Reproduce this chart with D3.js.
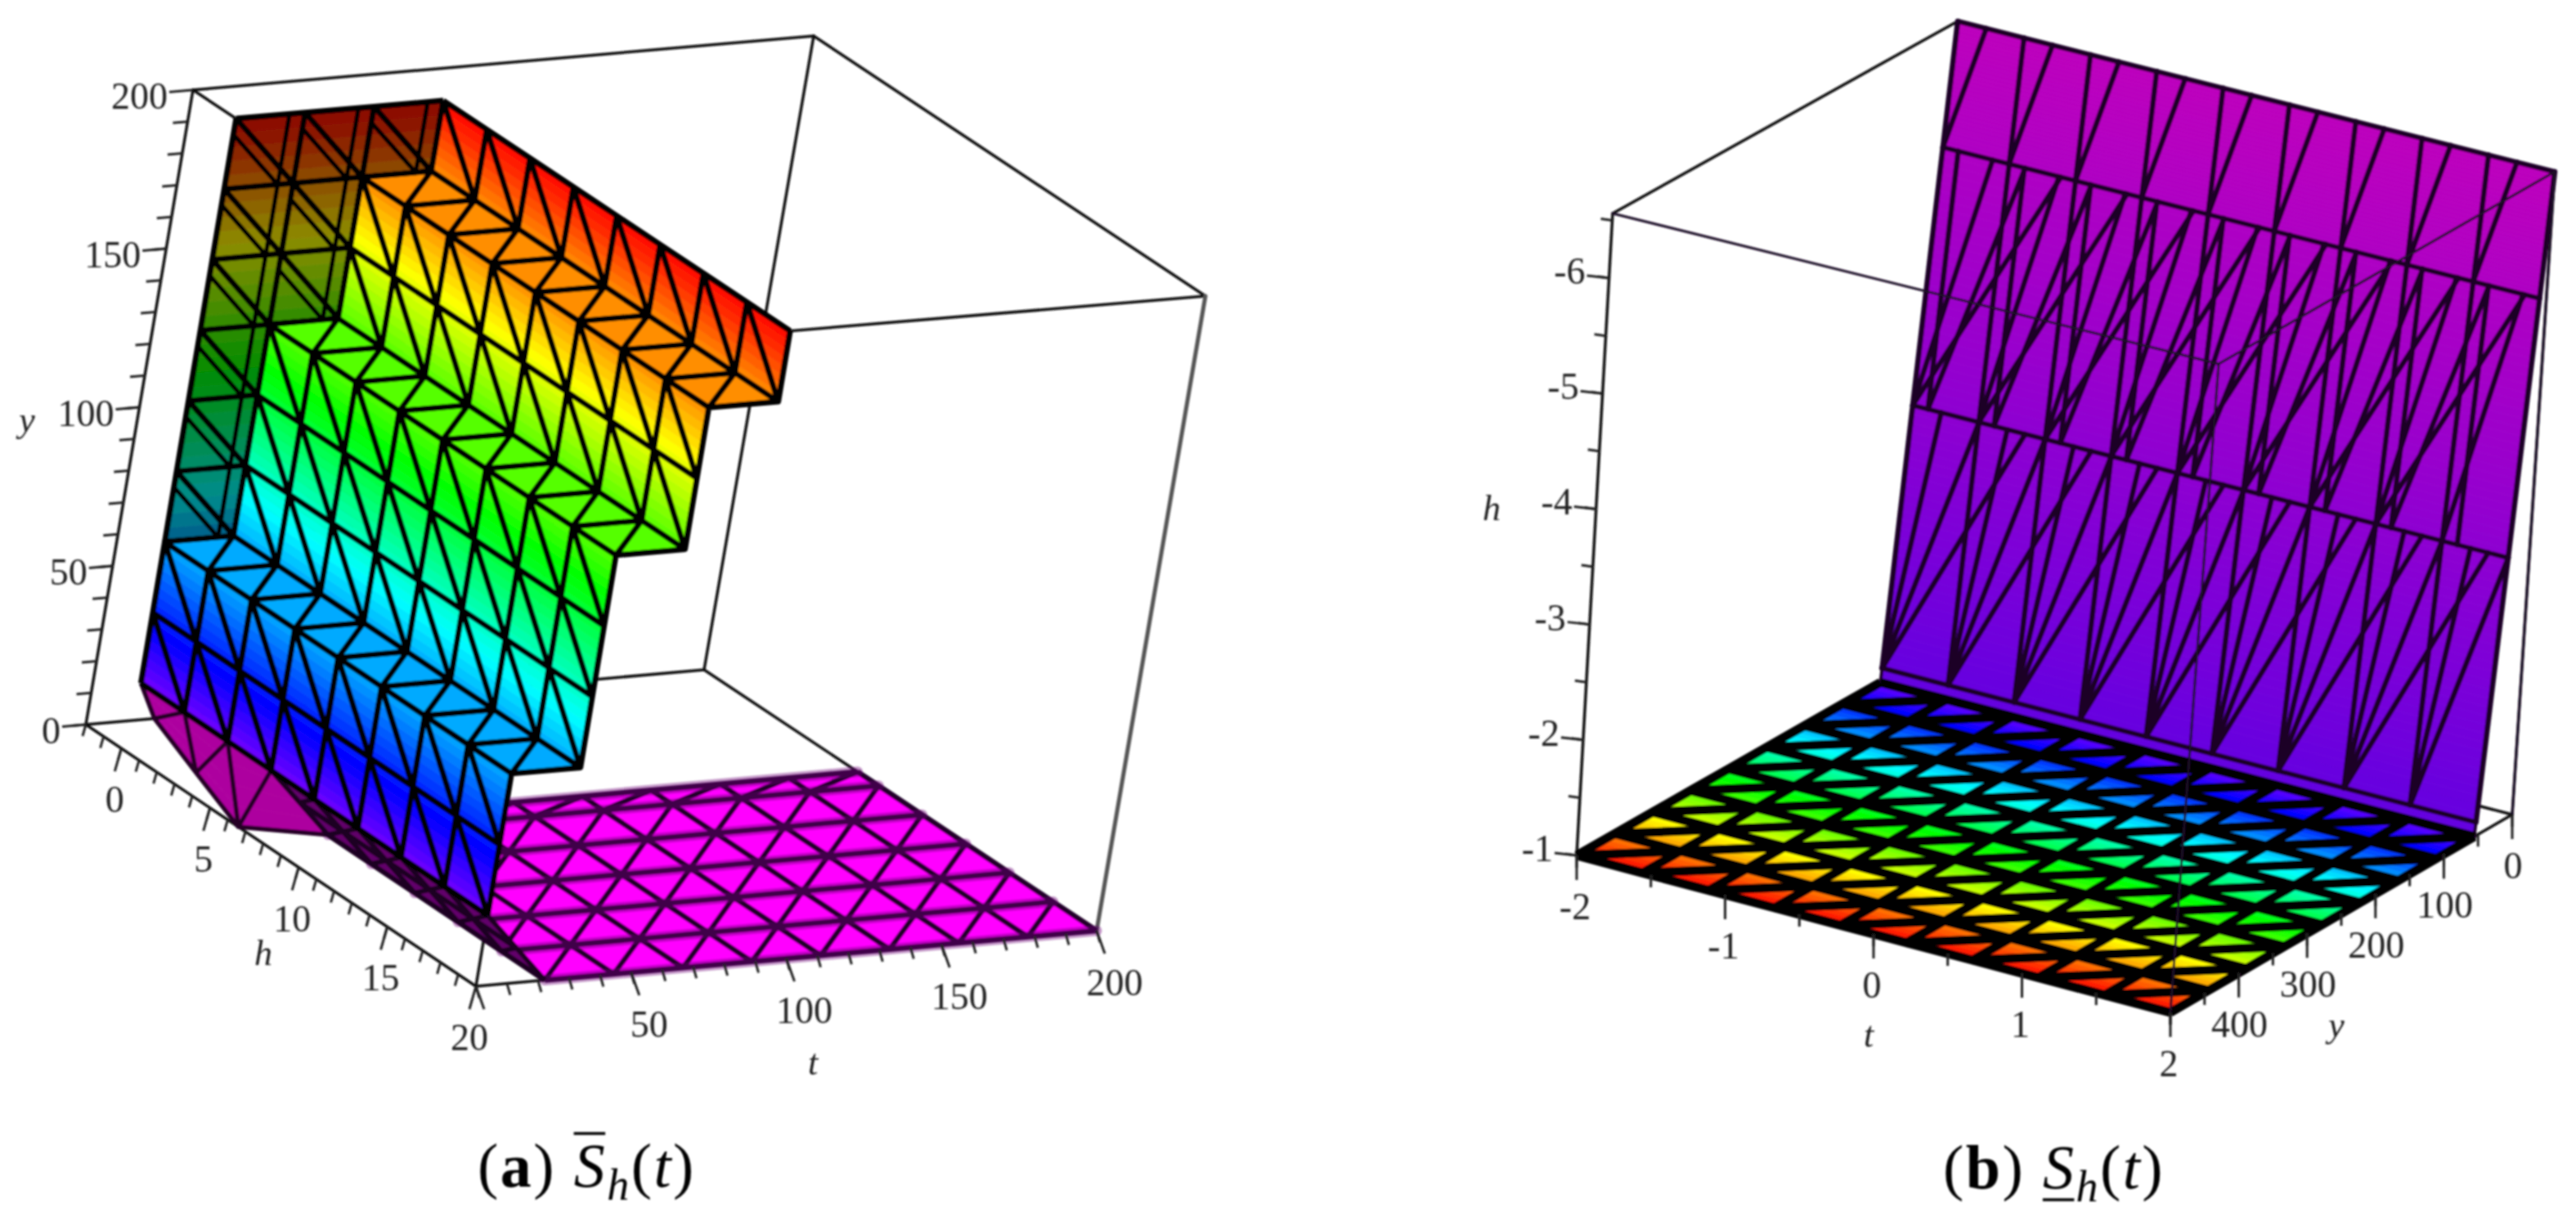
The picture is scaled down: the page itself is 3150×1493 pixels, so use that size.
<!DOCTYPE html>
<html>
<head>
<meta charset="utf-8">
<style>
  html, body { margin: 0; padding: 0; background: #fff; }
  svg { display: block; }
  text { font-family: "Liberation Serif", serif; fill: #222; }
</style>
<script src="https://cdn.jsdelivr.net/npm/d3@7/dist/d3.min.js"></script>
</head>
<body>
<div id="chart"></div>
<script>
// ---- panel (a) values
const tMeshA = [0, 22.2, 44.4, 66.7, 88.9, 111.1, 133.3, 155.6, 177.8, 200];
const hMeshA = [0.44, 2.89, 5.33, 7.78, 10.22, 12.67, 15.11, 17.56, 20];
// staircase profile, bottom to top
const stairT = [0, 0, 0, 22.2, 22.2, 22.2, 22.2, 44.4, 44.4, 44.4, 66.7, 66.7];
const stairY = [22.2, 44.4, 66.7, 66.7, 88.9, 111.1, 133.3, 133.3, 155.6, 177.8, 177.8, 200];
const floorHA = [6.6, 7.78, 10.22, 12.67, 15.11, 17.56, 20];
const wallTA = [0, 22.2, 44.4, 66.7];
const wallYA = [66.7, 88.9, 111.1, 133.3, 155.6, 177.8, 200];
const stripH = [7.78, 10.22, 12.67, 15.11, 17.56, 20];
const footT = [[0, 0, 0, 0], [22.2, 11, 0, 22.2]];
const footH = [[0.44, 2.89, 5.33, 7.78], [-2, 2.3, 6.6, 7.78]];
const footY = [[22.2, 22.2, 22.2, 22.2], [0, 0, 0, 0]];
const tTicksA = [0, 50, 100, 150, 200];
const hTicksA = [0, 5, 10, 15, 20];
const yTicksA = [0, 50, 100, 150, 200];

// ---- panel (b) values
const tMeshB = [-2, -1.556, -1.111, -0.667, -0.222, 0.222, 0.667, 1.111, 1.556, 2];
const yMeshB = [55.6, 111.1, 166.7, 222.2, 277.8, 333.3, 388.9, 444.4, 500];
const wallHB = [-6.56, -5.5, -3.33, -1.12, -1];
const wallYB = [0, 10.6, 32.3, 54.4, 55.6];
const tTicksB = [-2, -1, 0, 1, 2];
const yTicksB = [0, 100, 200, 300, 400];
const hTicksB = [-1, -2, -3, -4, -5, -6];

const width = 3150, height = 1493;
const svg = d3.select("#chart").append("svg").attr("width", width).attr("height", height);
svg.append("rect").attr("width", width).attr("height", height).attr("fill", "#fff");
svg.append("defs").append("filter").attr("id", "soft")
    .attr("filterUnits", "userSpaceOnUse")
    .attr("x", 0).attr("y", 0).attr("width", width).attr("height", height)
    .append("feGaussianBlur").attr("stdDeviation", 1.1);
const root = svg.append("g").attr("filter", "url(#soft)");

// box corners on screen, [t][h][y]
function makeProjection(tDom, hDom, yDom, c) {
    const ts = d3.scaleLinear().domain(tDom).range([0, 1]);
    const hs = d3.scaleLinear().domain(hDom).range([0, 1]);
    const ys = d3.scaleLinear().domain(yDom).range([0, 1]);
    const mix = d3.interpolateNumber;
    const project = function (p) {
        const a = ts(p[0]), b = hs(p[1]), w = ys(p[2]);
        return [0, 1].map(function (k) {
            const f00 = mix(c[0][0][0][k], c[0][0][1][k])(w);
            const f01 = mix(c[0][1][0][k], c[0][1][1][k])(w);
            const f10 = mix(c[1][0][0][k], c[1][0][1][k])(w);
            const f11 = mix(c[1][1][0][k], c[1][1][1][k])(w);
            return mix(mix(f00, f01)(b), mix(f10, f11)(b))(a);
        });
    };
    project.tDom = tDom; project.hDom = hDom; project.yDom = yDom;
    return project;
}

const projA = makeProjection([0, 200], [-2, 20], [0, 200], [
    [[[105, 886], [236, 110]], [[582, 1206], [712, 426]]],
    [[[861, 819], [995, 44]], [[1341, 1138], [1474, 362]]]
]);
const projB = makeProjection([-2, 2], [-1, -6.56], [0, 500], [
    [[[2346, 808], [1928, 1046]], [[2394, 26], [1972, 261]]],
    [[[3072, 996], [2654, 1238]], [[3124, 210], [2713, 445]]]
]);

const hueA = d3.scaleLinear().domain([0, 200]).range([300, 0]);
const hueB = d3.scaleLinear().domain([0, 500]).range([300, 0]);

function shadeColor(hue, shade) {
    const c = d3.rgb(d3.hsl(hue, 1, 0.5));
    return d3.rgb(c.r * shade, c.g * shade, c.b * shade).formatRgb();
}

const lerp3 = function (a, b, f) {
    return [a[0] + (b[0] - a[0]) * f, a[1] + (b[1] - a[1]) * f, a[2] + (b[2] - a[2]) * f];
};

/**
 * fills and outlines a grid of [t,h,y] nodes: rows[r][c]
 */
function drawMesh(g, rows, o) {
    const line = d3.line();
    const fills = [];
    for (let r = 0; r < rows.length - 1; r++) {
        for (let c = 0; c < rows[r].length - 1; c++) {
            const a = rows[r][c], b = rows[r][c + 1], d = rows[r + 1][c], e = rows[r + 1][c + 1];
            const n = (a[2] === d[2] && b[2] === e[2]) ? 1 : (o.strips || 6);
            for (let s = 0; s < n; s++) {
                const f0 = s / n, f1 = (s + 1) / n;
                const poly = [lerp3(a, d, f0), lerp3(b, e, f0), lerp3(b, e, f1), lerp3(a, d, f1)];
                const midY = (poly[0][2] + poly[1][2] + poly[2][2] + poly[3][2]) / 4;
                const shade = typeof o.shade === "function" ? o.shade(poly[0]) : o.shade;
                fills.push({ poly: poly, color: shadeColor(o.hue(midY), shade) });
            }
        }
    }
    g.append("g").selectAll("path").data(fills).enter().append("path")
        .attr("d", function (d) { return line(d.poly.map(o.project)) + "Z"; })
        .attr("fill", function (d) { return d.color; })
        .attr("stroke", function (d) { return d.color; })
        .attr("stroke-width", 0.8);

    if (!o.lineWidth) return;
    const segs = [];
    rows.forEach(function (row, r) {
        segs.push(row);
        if (r < rows.length - 1) {
            for (let c = 0; c < row.length - 1; c++) {
                segs.push([rows[r + 1][c], row[c + 1]]);
            }
        }
    });
    rows[0].forEach(function (_, c) {
        segs.push(rows.map(function (row) { return row[c]; }));
    });
    g.append("g").selectAll("path").data(segs).enter().append("path")
        .attr("d", function (d) { return line(d.map(o.project)); })
        .attr("fill", "none")
        .attr("stroke", o.lineColor)
        .attr("stroke-width", o.lineWidth)
        .attr("stroke-linejoin", "round");
}

function drawSegs(g, project, segs, color, w) {
    const line = d3.line();
    g.append("g").selectAll("path").data(segs).enter().append("path")
        .attr("d", function (d) { return line(d.map(project)); })
        .attr("fill", "none").attr("stroke", color).attr("stroke-width", w)
        .attr("stroke-linecap", "round");
}

function boxEdges(project, list) {
    const t = project.tDom, h = project.hDom, y = project.yDom;
    return list.map(function (e) {
        return [[t[e[0]], h[e[1]], y[e[2]]], [t[e[3]], h[e[4]], y[e[5]]]];
    });
}

// ticks and their labels along one box edge
function drawAxis(g, o) {
    g.append("g").selectAll("path").data(o.minor).enter().append("path")
        .attr("d", function (v) {
            const p = o.project(o.at(v));
            return d3.line()([p, [p[0] + o.minorDir[0], p[1] + o.minorDir[1]]]);
        })
        .attr("stroke", "#222").attr("stroke-width", 3);
    g.append("g").selectAll("path").data(o.major).enter().append("path")
        .attr("d", function (v) {
            const p = o.project(o.at(v));
            return d3.line()([p, [p[0] + o.majorDir[0], p[1] + o.majorDir[1]]]);
        })
        .attr("stroke", "#222").attr("stroke-width", 3);
    g.append("g").selectAll("text").data(o.major.filter(function (v) { return !o.skip || o.skip.indexOf(v) < 0; }))
        .enter().append("text")
        .attr("x", function (v) { return o.project(o.at(v))[0] + o.labelOff[0]; })
        .attr("y", function (v) { return o.project(o.at(v))[1] + o.labelOff[1]; })
        .attr("text-anchor", o.anchor)
        .attr("font-size", 46)
        .text(function (v) { return v; });
}

function axisLetter(g, s, x, y) {
    g.append("text").attr("x", x).attr("y", y).attr("text-anchor", "middle")
        .attr("font-size", 44).attr("font-style", "italic").text(s);
}

// ---------------- panel (a)
const gA = root.append("g");
drawSegs(gA, projA, boxEdges(projA, [
    [0, 0, 0, 0, 1, 0], [0, 1, 0, 1, 1, 0], [1, 1, 0, 1, 0, 0], [1, 0, 0, 0, 0, 0],
    [0, 0, 1, 0, 1, 1], [0, 1, 1, 1, 1, 1], [1, 1, 1, 1, 0, 1], [1, 0, 1, 0, 0, 1],
    [0, 0, 0, 0, 0, 1], [0, 1, 0, 0, 1, 1], [1, 0, 0, 1, 0, 1]
]), "#111", 3.5);
drawSegs(gA, projA, boxEdges(projA, [[1, 1, 0, 1, 1, 1]]), "#555", 5);

const meshA = { project: projA, hue: hueA, lineColor: "#040204", lineWidth: 7 };

// magenta floor
const floorRows = floorHA.map(function (h) {
    return tMeshA.slice(1).map(function (t) { return [t, h, 0]; });
});
drawSegs(gA, projA, [], "#000", 0);
drawMesh(gA, floorRows, Object.assign({}, meshA, { shade: 1, lineColor: "#24032c", lineWidth: 6.5 }));
drawSegs(gA, projA, floorRows.map(function (r) { return [r[0], r[r.length - 1]]; }), "rgba(110,0,120,0.4)", 13);

// dark underside along the foot of the staircase
const footRows = footT.map(function (ts, r) {
    return ts.map(function (t, c) { return [t, footH[r][c], footY[r][c]]; });
});
drawMesh(gA, footRows, Object.assign({}, meshA, { hue: function () { return 305; }, shade: 0.68, lineColor: "#250528", lineWidth: 5.5, strips: 4 }));
const stripRows = [stripH.map(function (h) { return [0, h, 22.2]; }),
    stripH.map(function (h) { return [11.1, h, 11.1]; }),
    stripH.map(function (h) { return [22.2, h, 0]; })];
drawMesh(gA, stripRows, Object.assign({}, meshA, { hue: function () { return 295; }, shade: 0.42, lineColor: "#1c0420", lineWidth: 6, strips: 2 }));

// dark end wall at the far side
const wallRows = wallYA.map(function (y) {
    return wallTA.map(function (t) { return [t, hMeshA[0], y]; });
});
drawMesh(gA, wallRows, Object.assign({}, meshA, { shade: 0.55, strips: 5 }));
const wallExtra = [];
for (let r = 0; r < wallYA.length - 1; r++) {
    for (let c = 1; c < wallTA.length; c++) {
        const t = wallTA[c];
        wallExtra.push([[t - 5, hMeshA[0], wallYA[r]], [t - 5, hMeshA[0], wallYA[r + 1]]]);
        wallExtra.push([[wallTA[c - 1], hMeshA[0], wallYA[r + 1] - 5], [t - 5, hMeshA[0], wallYA[r]]]);
    }
}
drawSegs(gA, projA, wallExtra, "#040204", 5.5);

// staircase sheet
const stairRows = stairT.map(function (t, p) {
    return hMeshA.map(function (h) { return [t, h, stairY[p]]; });
});
drawMesh(gA, stairRows, Object.assign({}, meshA, { shade: 1, strips: 8 }));

const gAxA = root.append("g");
drawAxis(gAxA, {
    project: projA, at: function (v) { return [0, -2, v]; },
    major: yTicksA, minor: d3.range(0, 200, 10),
    majorDir: [-29, 2.5], minorDir: [-18, 1.5], labelOff: [-31, 23], anchor: "end"
});
drawAxis(gAxA, {
    project: projA, at: function (v) { return [0, v, 0]; },
    major: hTicksA, minor: d3.range(-2, 20, 1),
    majorDir: [-8, 28], minorDir: [-4, 14], labelOff: [-8, 78], anchor: "middle"
});
drawAxis(gAxA, {
    project: projA, at: function (v) { return [v, 20, 0]; },
    major: tTicksA, minor: d3.range(0, 201, 10), skip: [0],
    majorDir: [10, 28], minorDir: [4, 14], labelOff: [22, 79], anchor: "middle"
});
axisLetter(gAxA, "y", 33, 528);
axisLetter(gAxA, "h", 322, 1180);
axisLetter(gAxA, "t", 994, 1314);

// ---------------- panel (b)
const gB = root.append("g");
drawSegs(gB, projB, boxEdges(projB, [
    [0, 1, 1, 0, 1, 0], [0, 1, 0, 1, 1, 0], [0, 1, 1, 0, 0, 1], [1, 1, 0, 1, 0, 0],
    [0, 0, 1, 1, 0, 1], [1, 0, 1, 1, 0, 0], [0, 0, 0, 1, 0, 0]
]), "#111", 3.5);

// sloped back wall
const wallTopRows = wallHB.map(function (h, r) {
    return [[-2, h, wallYB[r]], [2, h, wallYB[r]]];
});
drawMesh(gB, wallTopRows, {
    project: projB, hue: hueB, strips: 30,
    shade: function (p) { return 0.74 + 0.14 * (p[2] / 55.6); }
});
const wallSegs = [];
const step = 0.4444;
// top row: upright line and a slanted one per column
// bottom row: fan rising from each node
[[0.0, 0.43], [], [0.0, 0.43, 1.0, 1.7]].forEach(function (fan, r) {
    tMeshB.forEach(function (t) {
        fan.forEach(function (off) {
            const upper = t + off * step;
            if (upper > 2.001) return;
            wallSegs.push([[t, wallHB[r + 1], wallYB[r + 1]], [upper, wallHB[r], wallYB[r]]]);
        });
    });
});
// middle row: lines from both nodes of a pair, spread apart
tMeshB.forEach(function (t) {
    [[0, 0], [0, 0.75], [0, 1.78], [0.23, 0.23], [0.23, 1.24]].forEach(function (pair) {
        const lower = t + pair[0] * step, upper = t + pair[1] * step;
        if (upper > 2.001 || lower > 2.001) return;
        wallSegs.push([[lower, wallHB[2], wallYB[2]], [upper, wallHB[1], wallYB[1]]]);
    });
});
drawSegs(gB, projB, wallSegs, "#1d0428", 6.5);
const wallRowsB = wallHB.map(function (h, r) { return [[-2, h, wallYB[r]], [2, h, wallYB[r]]]; });
drawSegs(gB, projB, wallRowsB, "#1d0428", 6);
drawSegs(gB, projB, [[[-2, -6.56, 0], [-2, -1, 55.6]], [[2, -6.56, 0], [2, -1, 55.6]]], "#1d0428", 4);

// coloured floor
const floorRowsB = yMeshB.map(function (y) {
    return tMeshB.map(function (t) { return [t, -1, y]; });
});
drawMesh(gB, floorRowsB, { project: projB, hue: hueB, shade: 1, strips: 7, lineColor: "#030203", lineWidth: 11 });

// thin front edges of the box, over the surface
drawSegs(gB, projB, boxEdges(projB, [[0, 1, 1, 1, 1, 1], [1, 1, 1, 1, 1, 0], [1, 1, 1, 1, 0, 1], [1, 1, 0, 1, 0, 0]]), "#1c0a26", 3);

const gAxB = root.append("g");
drawAxis(gAxB, {
    project: projB, at: function (v) { return [-2, v, 500]; },
    major: hTicksB, minor: d3.range(-1, -6.6, -0.5),
    majorDir: [-27, -3], minorDir: [-14, -2], labelOff: [-29, 7], anchor: "end"
});
drawAxis(gAxB, {
    project: projB, at: function (v) { return [v, -1, 500]; },
    major: tTicksB, minor: d3.range(-2, 2.01, 0.5),
    majorDir: [0, 30], minorDir: [0, 15], labelOff: [-2, 78], anchor: "middle"
});
drawAxis(gAxB, {
    project: projB, at: function (v) { return [2, -1, v]; },
    major: yTicksB, minor: d3.range(0, 501, 50),
    majorDir: [0, 30], minorDir: [0, 15], labelOff: [1, 78], anchor: "middle"
});
axisLetter(gAxB, "h", 1824, 636);
axisLetter(gAxB, "t", 2285, 1280);
axisLetter(gAxB, "y", 2857, 1268);

// ---------------- captions
function caption(x, y, tag, markBelow) {
    const t = root.append("text").attr("x", x).attr("y", y).attr("font-size", 76)
        .attr("letter-spacing", 2.5).style("fill", "#000");
    t.append("tspan").text("(");
    t.append("tspan").attr("font-weight", "bold").text(tag);
    t.append("tspan").text(") ");
    t.append("tspan").attr("font-style", "italic").text("S");
    t.append("tspan").attr("font-style", "italic").attr("font-size", 54).attr("dy", 16).text("h");
    t.append("tspan").attr("dy", -16).text("(");
    t.append("tspan").attr("font-style", "italic").text("t");
    t.append("tspan").text(")");
    const n = t.node();
    const s0 = n.getStartPositionOfChar(4), s1 = n.getEndPositionOfChar(4);
    const ly = markBelow ? y + 14 : y - 65;
    root.append("path").attr("d", d3.line()([[s0.x, ly], [s1.x - 2, ly]]))
        .attr("stroke", "#000").attr("stroke-width", 3.5);
}
caption(584, 1451, "a", false);
caption(2376, 1453, "b", true);
</script>
</body>
</html>
